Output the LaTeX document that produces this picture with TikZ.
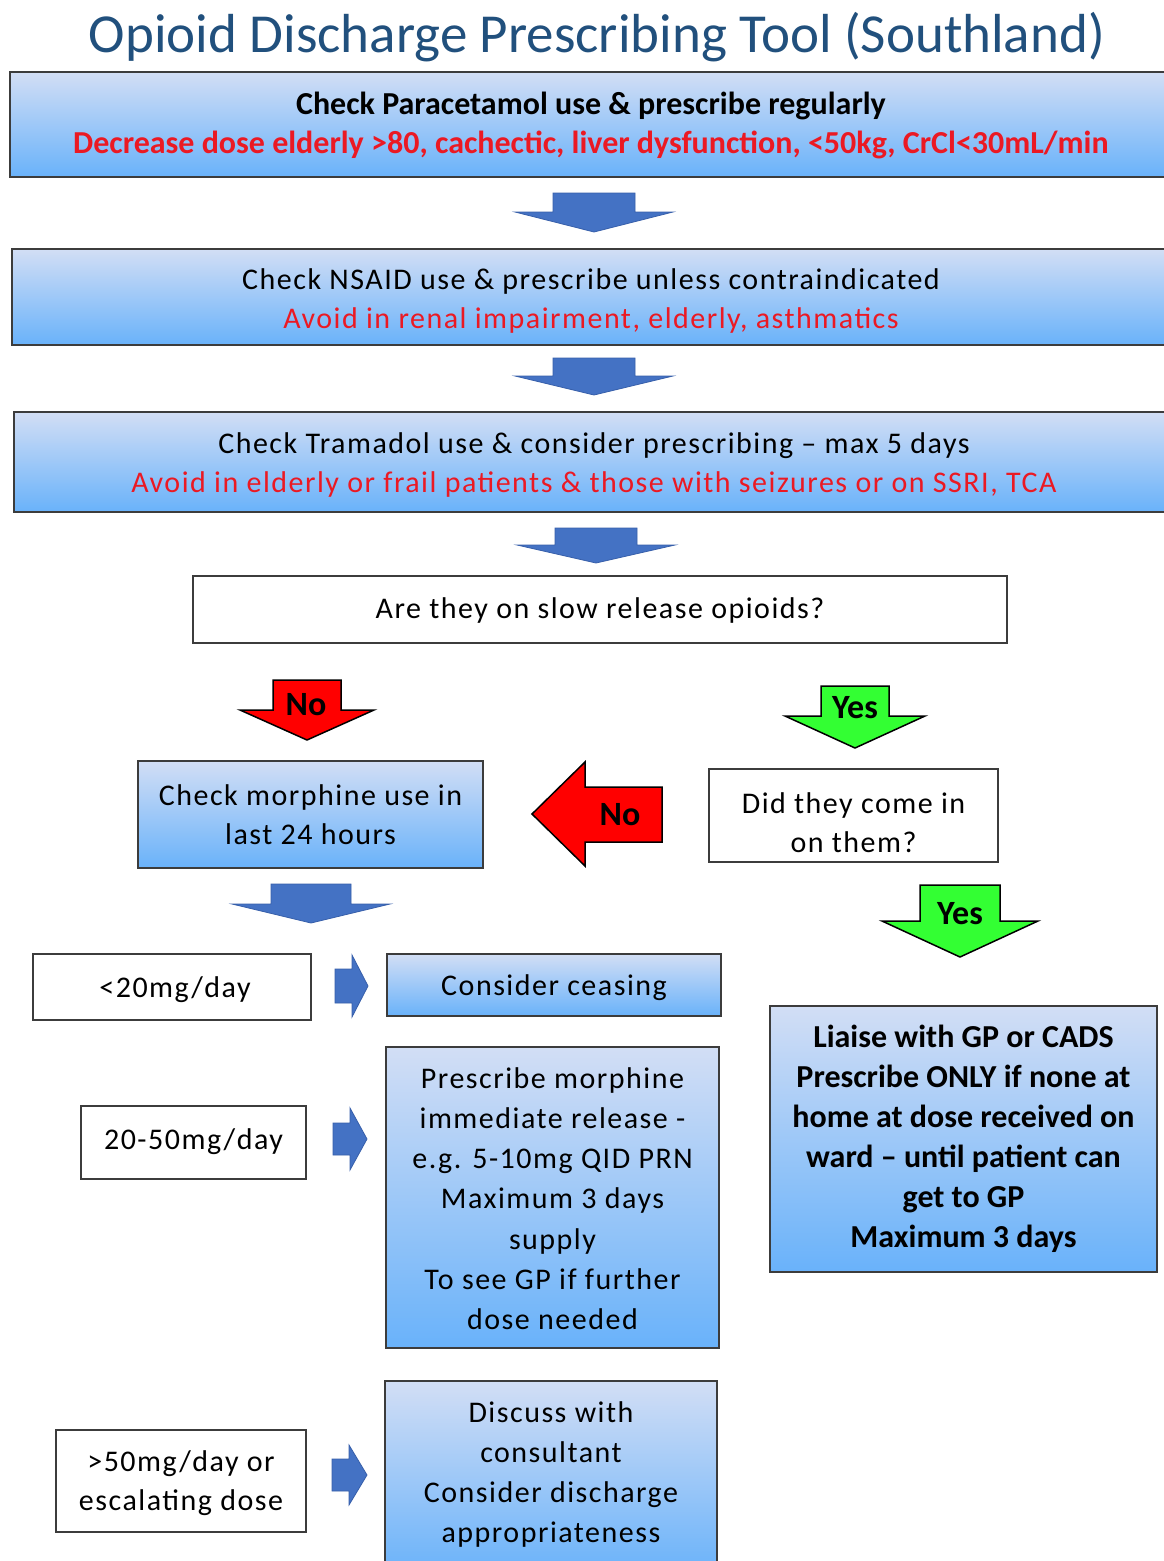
\documentclass[tikz,border=0pt]{standalone}
\usepackage{fontspec}
\setmainfont{Carlito}
\newfontfamily\spc{Carlito}[LetterSpace=5]
\definecolor{titleblue}{RGB}{33,80,125}
\definecolor{boxtop}{RGB}{210,222,245}
\definecolor{boxbot}{RGB}{105,178,250}
\definecolor{arrblue}{RGB}{68,114,196}
\definecolor{arrblueedge}{RGB}{55,95,170}
\definecolor{txtred}{RGB}{235,25,35}
\definecolor{yesgreen}{RGB}{51,255,51}
\definecolor{edgegray}{RGB}{60,60,60}
\newcommand\DArrow[7]{\draw[#1] ({#2-#4},#3) -- ({#2+#4},#3) -- ({#2+#4},#5) -- ({#2+#6},#5) -- (#2,#7) -- ({#2-#6},#5) -- ({#2-#4},#5) -- cycle;}
\newcommand\RArrow[7]{\draw[#1] (#2,{#3-#4}) -- (#5,{#3-#4}) -- (#5,{#3-#6}) -- (#7,#3) -- (#5,{#3+#6}) -- (#5,{#3+#4}) -- (#2,{#3+#4}) -- cycle;}
\tikzset{
 gbox/.style={draw=edgegray, line width=1.2pt, top color=boxtop, bottom color=boxbot, inner sep=0pt},
 wbox/.style={draw=edgegray, line width=1.2pt, fill=white, inner sep=0pt},
 txt/.style={align=center, inner sep=0pt, font=\fontsize{30}{39}\selectfont\spc},
 btxt/.style={align=center, inner sep=0pt, font=\fontsize{32}{39}\selectfont\bfseries},
 lbl/.style={font=\fontsize{34}{40}\selectfont\bfseries, inner sep=0pt},
 barrow/.style={fill=arrblue, draw=arrblueedge, line width=0.8pt},
 rarrow/.style={fill=red, draw=black, line width=1.5pt},
 garrow/.style={fill=yesgreen, draw=black, line width=1.5pt},
}
\begin{document}
\begin{tikzpicture}[x=1pt,y=-1pt]
\useasboundingbox[fill=white] (0,0) rectangle (1163,1561);
% title
\node[text=titleblue, font=\fontsize{55}{64}\selectfont, inner sep=0pt] (title) at (597,37) {Opioid Discharge Prescribing Tool (Southland)};
% top boxes
\node[gbox, minimum width=1162, minimum height=105] (b1) at (591,124.5) {};
\node[btxt] (b1t) at ([yshift=-1]b1.center) {Check Paracetamol use \& prescribe regularly\\ \color{txtred}Decrease dose elderly >80, cachectic, liver dysfunction, <50kg, CrCl<30mL/min};
\DArrow{barrow}{594}{193}{41}{212}{79}{232}
\node[gbox, minimum width=1158, minimum height=96] (b2) at (591,297) {};
\node[txt] (b2t) at ([yshift=-4]b2.center) {Check NSAID use \& prescribe unless contraindicated\\ \color{txtred}Avoid in renal impairment, elderly, asthmatics};
\DArrow{barrow}{594}{358}{41}{376}{79}{395}
\node[gbox, minimum width=1160, minimum height=100] (b3) at (594,462) {};
\node[txt] (b3t) at ([yshift=-3]b3.center) {Check Tramadol use \& consider prescribing \textendash{} max 5 days\\ \color{txtred}Avoid in elderly or frail patients \& those with seizures or on SSRI, TCA};
\DArrow{barrow}{596}{528}{41}{545}{79}{563}
\node[wbox, minimum width=814, minimum height=67] (q1) at (600,609.5) {};
\node[txt] (q1t) at ([yshift=-1]q1.center) {Are they on slow release opioids?};
% No / Yes
\DArrow{rarrow}{307}{680}{34}{710}{67}{740}
\node[lbl] (no1) at (306,705) {No};
\DArrow{garrow}{855}{686}{34}{716}{70}{748}
\node[lbl] (yes1) at (855,708) {Yes};
\node[gbox, minimum width=345, minimum height=107] (morph) at (310.5,814.5) {};
\node[txt] (morpht) at (morph.center) {Check morphine use in\\ last 24 hours};
\node[wbox, minimum width=289, minimum height=93] (q2) at (853.5,815.5) {};
\node[txt] (q2t) at ([yshift=-7]q2.center) {Did they come in\\ on them?};
\draw[rarrow] (532,814) -- (585,762) -- (585,787) -- (662,787) -- (662,842) -- (585,842) -- (585,866) -- cycle;
\node[lbl] (no2) at (620,815) {No};
\DArrow{garrow}{960}{885}{40}{921}{78}{957}
\node[lbl] (yes2) at (960,914) {Yes};
\DArrow{barrow}{311}{884}{40}{904}{79}{923}
% dose rows
\node[wbox, minimum width=278, minimum height=66] (d1) at (172,987) {};
\node[txt] (d1t) at ([yshift=-3,xshift=3]d1.center) {<20mg/day};
\RArrow{barrow}{335}{986}{17}{352}{31}{368}
\node[gbox, minimum width=334, minimum height=62] (r1) at (554,985) {};
\node[txt] (r1t) at ([yshift=-3]r1.center) {Consider ceasing};
\node[wbox, minimum width=225, minimum height=73] (d2) at (193.5,1142.5) {};
\node[txt] (d2t) at ([yshift=1]d2.center) {20-50mg/day};
\RArrow{barrow}{333}{1139}{16}{350}{31}{367}
\node[gbox, minimum width=333, minimum height=301] (r2) at (552.5,1197.5) {};
\node[txt, font=\fontsize{30}{40.2}\selectfont\spc] (r2t) at ([yshift=-1]r2.center) {Prescribe morphine\\ immediate release -\\ e.g. 5-10mg QID PRN\\ Maximum 3 days\\ supply\\ To see GP if further\\ dose needed};
\node[gbox, minimum width=387, minimum height=266] (liaise) at (963.5,1139) {};
\node[btxt, font=\fontsize{32}{40}\selectfont\bfseries] (liaiset) at (liaise.center) {Liaise with GP or CADS\\ Prescribe ONLY if none at\\ home at dose received on\\ ward \textendash{} until patient can\\ get to GP\\ Maximum 3 days};
\node[wbox, minimum width=250, minimum height=102] (d3) at (181,1481) {};
\node[txt] (d3t) at ([yshift=-2]d3.center) {>50mg/day or\\ escalating dose};
\RArrow{barrow}{332}{1475}{16}{349}{30}{367}
\node[gbox, minimum width=332, minimum height=194] (r3) at (551,1478) {};
\node[txt, font=\fontsize{30}{40}\selectfont\spc] (r3t) at ([yshift=4]r3.center) {Discuss with\\ consultant\\ Consider discharge\\ appropriateness};
\end{tikzpicture}
\end{document}
